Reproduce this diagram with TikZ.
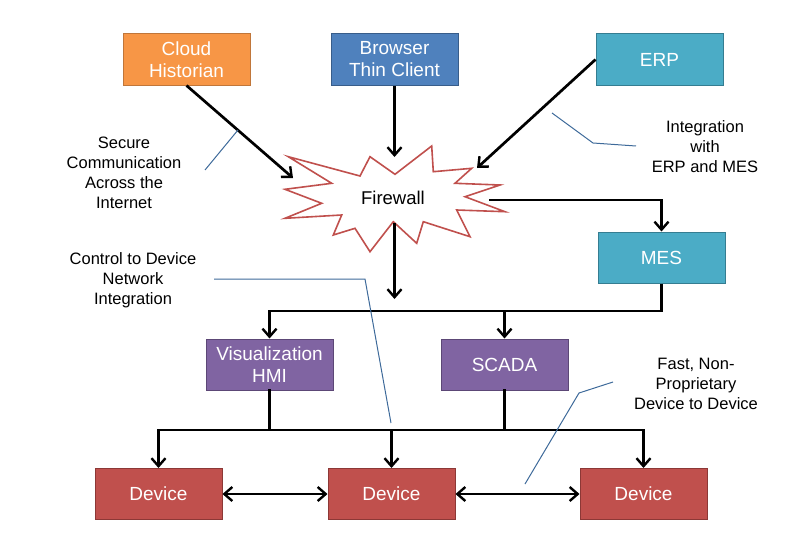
\documentclass[tikz,border=0pt]{standalone}
\usepackage{fontspec}
\setmainfont{Liberation Sans}
\usetikzlibrary{arrows.meta}
\definecolor{cOrange}{HTML}{F79646}
\definecolor{cOrangeB}{HTML}{C0763A}
\definecolor{cBlue}{HTML}{4F81BD}
\definecolor{cBlueB}{HTML}{385D8A}
\definecolor{cAqua}{HTML}{4BACC6}
\definecolor{cAquaB}{HTML}{357D91}
\definecolor{cPurple}{HTML}{8064A2}
\definecolor{cPurpleB}{HTML}{5C4776}
\definecolor{cRed}{HTML}{C0504D}
\definecolor{cRedB}{HTML}{8C3836}
\definecolor{cNote}{HTML}{3E6A9A}
\begin{document}
\begin{tikzpicture}[x=1pt,y=-1pt,
  box/.style={draw, line width=1pt, minimum width=127pt, minimum height=51pt, inner sep=0pt,
    text=white, font=\fontsize{19}{22}\selectfont, align=center},
  orangebox/.style={box, fill=cOrange, draw=cOrangeB},
  bluebox/.style={box, fill=cBlue, draw=cBlueB},
  aquabox/.style={box, fill=cAqua, draw=cAquaB},
  purplebox/.style={box, fill=cPurple, draw=cPurpleB},
  redbox/.style={box, fill=cRed, draw=cRedB},
  wire/.style={line width=2.7pt, line cap=rect},
  conn/.style={line width=2.7pt, -{Straight Barb[length=8pt,width=14pt,line width=2.4pt]}},
  dconn/.style={line width=2.7pt, {Straight Barb[length=8pt,width=14pt,line width=2.4pt]}-{Straight Barb[length=8pt,width=14pt,line width=2.4pt]}},
  note/.style={draw=cNote, line width=1pt},
  notetext/.style={align=center, font=\fontsize{16.5}{20}\selectfont, inner sep=0pt}
]
\useasboundingbox (0,0) rectangle (795,543);

% firewall star
\draw[draw=cRed, line width=1.6pt, fill=white, line join=miter]
  (288.3,156.7) -- (360,176) -- (370,156.7) -- (395,174.3) -- (431.7,146) -- (433.3,171.7)
  -- (471.7,168.3) -- (455,183.3) -- (500,185) -- (465,196.7) -- (505,211.7) -- (456.7,210)
  -- (470,236.7) -- (423.3,221.7) -- (416.7,243.3) -- (393.3,221.7) -- (370,251.7) -- (355,228.3)
  -- (333.3,235) -- (341.7,215) -- (285,218.3) -- (321.7,203.3) -- (285,189.3) -- (331.7,183.3) -- cycle;
\node[font=\fontsize{18.5}{22}\selectfont, inner sep=0pt] (fw) at (393,198) {Firewall};

% boxes
\node[orangebox] (cloud) at (186.5,59.5) {Cloud\\Historian};
\node[bluebox] (browser) at (394.5,59.5) {Browser\\Thin Client};
\node[aquabox] (erp) at (659.5,59.5) {ERP};
\node[aquabox] (mes) at (661.5,257.5) {MES};
\node[purplebox] (hmi) at (269.5,364.5) {Visualization\\HMI};
\node[purplebox] (scada) at (504.5,364.5) {SCADA};
\node[redbox] (dev1) at (158.5,494) {Device};
\node[redbox] (dev2) at (391.5,494) {Device};
\node[redbox] (dev3) at (643.5,494) {Device};

% connection points on the firewall
\coordinate (fwA) at (293,178);
\coordinate (fwB) at (394.5,157);
\coordinate (fwC) at (477,168);
\coordinate (fwE) at (489,200);
\coordinate (fwS) at (394.5,223);
\coordinate (fwT) at (394.5,299);
\coordinate (bus1) at (0,311);
\coordinate (bus2) at (0,430);

% arrows into the firewall
\draw[conn] (cloud.south) -- (fwA);
\draw[conn] (browser.south) -- (fwB);
\draw[conn] (erp.west) -- (fwC);
\draw[conn] (fwE) -| (mes.north);
\draw[conn] (fwS) -- (fwT);

% MES to HMI / SCADA
\draw[conn, line join=miter] (mes.south) |- (hmi.north |- bus1) -- (hmi.north);
\draw[conn] (scada.north |- bus1) -- (scada.north);

% lower bus
\draw[wire] (hmi.south) -- (hmi.south |- bus2);
\draw[wire] (scada.south) -- (scada.south |- bus2);
\draw[wire] (dev1.north |- bus2) -- (dev3.north |- bus2);
\draw[conn] (dev1.north |- bus2) -- (dev1.north);
\draw[conn] (dev2.north |- bus2) -- (dev2.north);
\draw[conn] (dev3.north |- bus2) -- (dev3.north);

% device to device
\draw[dconn] (dev1.east) -- (dev2.west);
\draw[dconn] (dev2.east) -- (dev3.west);

% notes
\node[notetext] (nsecure) at (124,172.5) {Secure\\Communication\\Across the\\Internet};
\node[notetext] (nintegr) at (705,147) {Integration\\with\\ERP and MES};
\node[notetext] (ncontrol) at (133,280) {Control to Device\\Network\\Integration};
\node[notetext] (nfast) at (696,384) {Fast, Non-\\Proprietary\\Device to Device};

\coordinate (s1) at (205,170); \coordinate (s2) at (238,130);
\draw[note] (s1) -- (s2);
\coordinate (i1) at (552,113); \coordinate (i2) at (593,143); \coordinate (i3) at (636,146);
\draw[note] (i1) -- (i2) -- (i3);
\coordinate (c1) at (214,279); \coordinate (c2) at (365,279); \coordinate (c3) at (391,423);
\draw[note] (c1) -- (c2) -- (c3);
\coordinate (f1) at (525,484); \coordinate (f2) at (579,393); \coordinate (f3) at (613,382);
\draw[note] (f1) -- (f2) -- (f3);
\end{tikzpicture}
\end{document}
